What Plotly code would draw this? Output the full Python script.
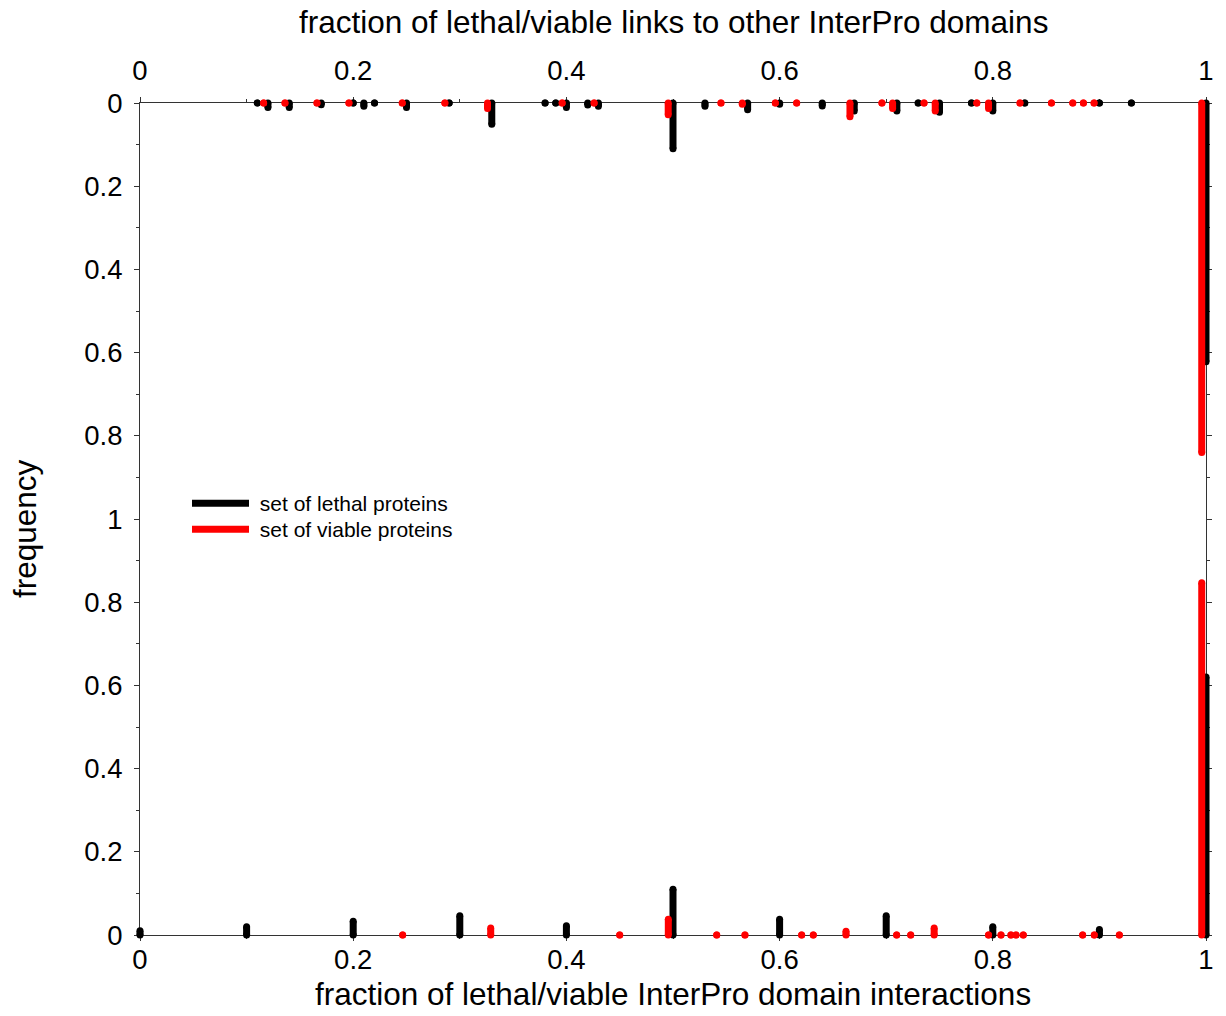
import plotly.graph_objects as go

# ---------------- data ----------------
# top panel: fraction of lethal/viable links to other InterPro domains
top_lethal_x = [0.11, 0.12, 0.14, 0.17, 0.20, 0.21, 0.22, 0.25, 0.29, 0.33, 0.38, 0.39,
                0.40, 0.42, 0.43, 0.50, 0.53, 0.57, 0.60, 0.64, 0.67, 0.71, 0.73, 0.75,
                0.78, 0.80, 0.83, 0.90, 0.93, 1.00]
top_lethal_f = [0, 0.011, 0.011, 0.004, 0, 0.008, 0, 0.011, 0, 0.051, 0, 0,
                0.011, 0.005, 0.008, 0.110, 0.008, 0.016, 0.003, 0.007, 0.019, 0.019, 0, 0.022,
                0, 0.019, 0, 0, 0, 0.622]
top_viable_x = [0.116, 0.136, 0.166, 0.196, 0.246, 0.286, 0.326, 0.396, 0.426, 0.4955,
                0.545, 0.565, 0.596, 0.616, 0.666, 0.696, 0.706, 0.7355, 0.746, 0.785,
                0.796, 0.8255, 0.855, 0.875, 0.885, 0.895, 0.996]
top_viable_f = [0, 0, 0, 0, 0, 0, 0.013, 0, 0, 0.028,
                0, 0.003, 0, 0, 0.033, 0, 0.013, 0, 0.019, 0,
                0.013, 0, 0, 0, 0, 0, 0.84]

# bottom panel: fraction of lethal/viable InterPro domain interactions
bot_lethal_x = [0.0, 0.10, 0.20, 0.30, 0.40, 0.50, 0.60, 0.70, 0.80, 0.90, 1.00]
bot_lethal_f = [0.010, 0.020, 0.033, 0.046, 0.022, 0.110, 0.038, 0.046, 0.020, 0.013, 0.62]
bot_viable_x = [0.2464, 0.329, 0.450, 0.4956, 0.541, 0.5675, 0.6207, 0.6316, 0.6623, 0.7098,
                0.723, 0.745, 0.796, 0.8077, 0.817, 0.8218, 0.8286, 0.8843, 0.8952, 0.9187, 0.996]
bot_viable_f = [0, 0.017, 0, 0.038, 0, 0, 0, 0, 0.009, 0,
                0, 0.017, 0, 0, 0, 0, 0, 0, 0, 0, 0.847]

x_tickvals = [0, 0.2, 0.4, 0.6, 0.8, 1]
top_y_tickvals = [0, 0.2, 0.4, 0.6, 0.8]
bot_y_tickvals = [0, 0.2, 0.4, 0.6, 0.8, 1]

series_names = ["set of lethal proteins", "set of viable proteins"]
colors = ["#000000", "#ff0000"]
top_title = "fraction of lethal/viable links to other InterPro domains"
bottom_title = "fraction of lethal/viable InterPro domain interactions"
y_title = "frequency"

# ---------------- layout geometry ----------------
OFF = 0                      # body margin removed by post_script below
WIN_W, WIN_H = 1226, 1016
W, H = WIN_W - 2 * OFF, WIN_H - 2 * OFF
PLOT_L, PLOT_R, PLOT_T, PLOT_B = 140, 1206, 103, 935   # in window pixels
PAD = 12
ml = PLOT_L - OFF - PAD
mr = W - (PLOT_R - OFF) - PAD
mt = PLOT_T - OFF
mb = H - (PLOT_B - OFF)
pw = PLOT_R - PLOT_L + 2 * PAD
ph = PLOT_B - PLOT_T
span = PLOT_R - PLOT_L
disp_dom = [PAD / pw, 1 - PAD / pw]
data_range = [-PAD / span, 1 + PAD / span]


def px_x(px):
    return (px - PLOT_L + PAD) / pw


def px_y(py):
    return (PLOT_B - py) / ph


FONT = "Liberation Sans, Arial, sans-serif"
LW = 7
AX_COL = "#333333"
TICK_SIZE = 27.5
TITLE_SIZE = 31.5
LEG_SIZE = 21


def stems(xs, fs, color, xa, ya):
    lx, ly, mx, my = [], [], [], []
    for x, f in zip(xs, fs):
        lx += [x, x, None]
        ly += [0, f, None]
        mx += [x, x]
        my += [0, f]
    return [
        go.Scatter(x=lx, y=ly, mode="lines", line=dict(color=color, width=LW),
                   xaxis=xa, yaxis=ya, showlegend=False, hoverinfo="skip"),
        go.Scatter(x=mx, y=my, mode="markers", marker=dict(color=color, size=LW, line=dict(width=0)),
                   xaxis=xa, yaxis=ya, showlegend=False, cliponaxis=False, hoverinfo="skip"),
    ]


fig = go.Figure()
# empty traces so the display subplots exist
fig.add_trace(go.Scatter(x=[None], y=[None], xaxis="x", yaxis="y", showlegend=False))
fig.add_trace(go.Scatter(x=[None], y=[None], xaxis="x2", yaxis="y2", showlegend=False))
for t in stems(top_lethal_x, top_lethal_f, colors[0], "x3", "y3"):
    fig.add_trace(t)
for t in stems(top_viable_x, top_viable_f, colors[1], "x3", "y3"):
    fig.add_trace(t)
for t in stems(bot_lethal_x, bot_lethal_f, colors[0], "x4", "y4"):
    fig.add_trace(t)
for t in stems(bot_viable_x, bot_viable_f, colors[1], "x4", "y4"):
    fig.add_trace(t)
for i, (name, c) in enumerate(zip(series_names, colors)):
    fig.add_trace(go.Scatter(x=[None], y=[None], mode="lines", name="\u00a0" + name,
                             line=dict(color=c, width=LW), xaxis="x3", yaxis="y3",
                             legend="legend" if i == 0 else "legend2"))

axis_line = dict(showline=True, linecolor=AX_COL, linewidth=1, showgrid=False,
                 zeroline=False, ticks="outside", ticklen=5, tickwidth=1, tickcolor=AX_COL,
                 tickfont=dict(family=FONT, size=TICK_SIZE, color="#000000"), fixedrange=True)
minor = dict(ticks="outside", ticklen=3, tickwidth=1, tickcolor=AX_COL, dtick=0.1, tick0=0)

leg_common = dict(xanchor="left", yanchor="top",
                  font=dict(family=FONT, size=LEG_SIZE, color="#000000"),
                  bgcolor="rgba(0,0,0,0)", itemwidth=57)

title_font = dict(family=FONT, size=TITLE_SIZE, color="#000000")
mid_x = px_x((PLOT_L + PLOT_R) / 2)

fig.update_layout(
    width=W, height=H,
    margin=dict(l=ml, r=mr, t=mt, b=mb, autoexpand=False),
    paper_bgcolor="white", plot_bgcolor="rgba(0,0,0,0)",
    font=dict(family=FONT, color="#000000"),
    xaxis=dict(domain=disp_dom, range=[0, 1], anchor="y", side="top",
               tickvals=x_tickvals, minor=minor, ticklabelstandoff=6, **axis_line),
    yaxis=dict(domain=[0.5, 1], range=[1, 0], anchor="x", tickvals=top_y_tickvals,
               mirror="ticks", minor=minor, ticklabelstandoff=6, **axis_line),
    xaxis2=dict(domain=disp_dom, range=[0, 1], anchor="y2", side="bottom",
                tickvals=x_tickvals, minor=minor, **axis_line),
    yaxis2=dict(domain=[0, 0.5], range=[0, 1], anchor="x2", tickvals=bot_y_tickvals,
                mirror="ticks", minor=minor, ticklabelstandoff=6, **axis_line),
    xaxis3=dict(domain=[0, 1], range=data_range, anchor="y3", visible=False, fixedrange=True),
    yaxis3=dict(domain=[0.5, 1], range=[1, 0], anchor="x3", visible=False, fixedrange=True),
    xaxis4=dict(domain=[0, 1], range=data_range, anchor="y4", visible=False, fixedrange=True),
    yaxis4=dict(domain=[0, 0.5], range=[0, 1], anchor="x4", visible=False, fixedrange=True),
    legend=dict(x=px_x(187), y=px_y(483), **leg_common),
    legend2=dict(x=px_x(187), y=px_y(509), **leg_common),
    hovermode=False,
    annotations=[
        dict(text=y_title, textangle=-90, xref="paper", yref="paper",
             x=px_x(25), y=px_y(529), xanchor="center", yanchor="middle",
             showarrow=False, font=title_font),
        dict(text=top_title, xref="paper", yref="paper",
             x=mid_x, y=px_y(22), xanchor="center", yanchor="middle",
             showarrow=False, font=title_font),
        dict(text=bottom_title, xref="paper", yref="paper",
             x=mid_x, y=px_y(994), xanchor="center", yanchor="middle",
             showarrow=False, font=title_font),
    ],
)

# pull the bottom tick labels a little closer to the axis
try:
    fig.update_layout(xaxis2_ticklabelstandoff=-5)
except Exception:
    pass

fig.write_html("out.html",
               config={"displayModeBar": False},
               post_script="document.body.style.margin='0';document.body.style.overflow='hidden';")
